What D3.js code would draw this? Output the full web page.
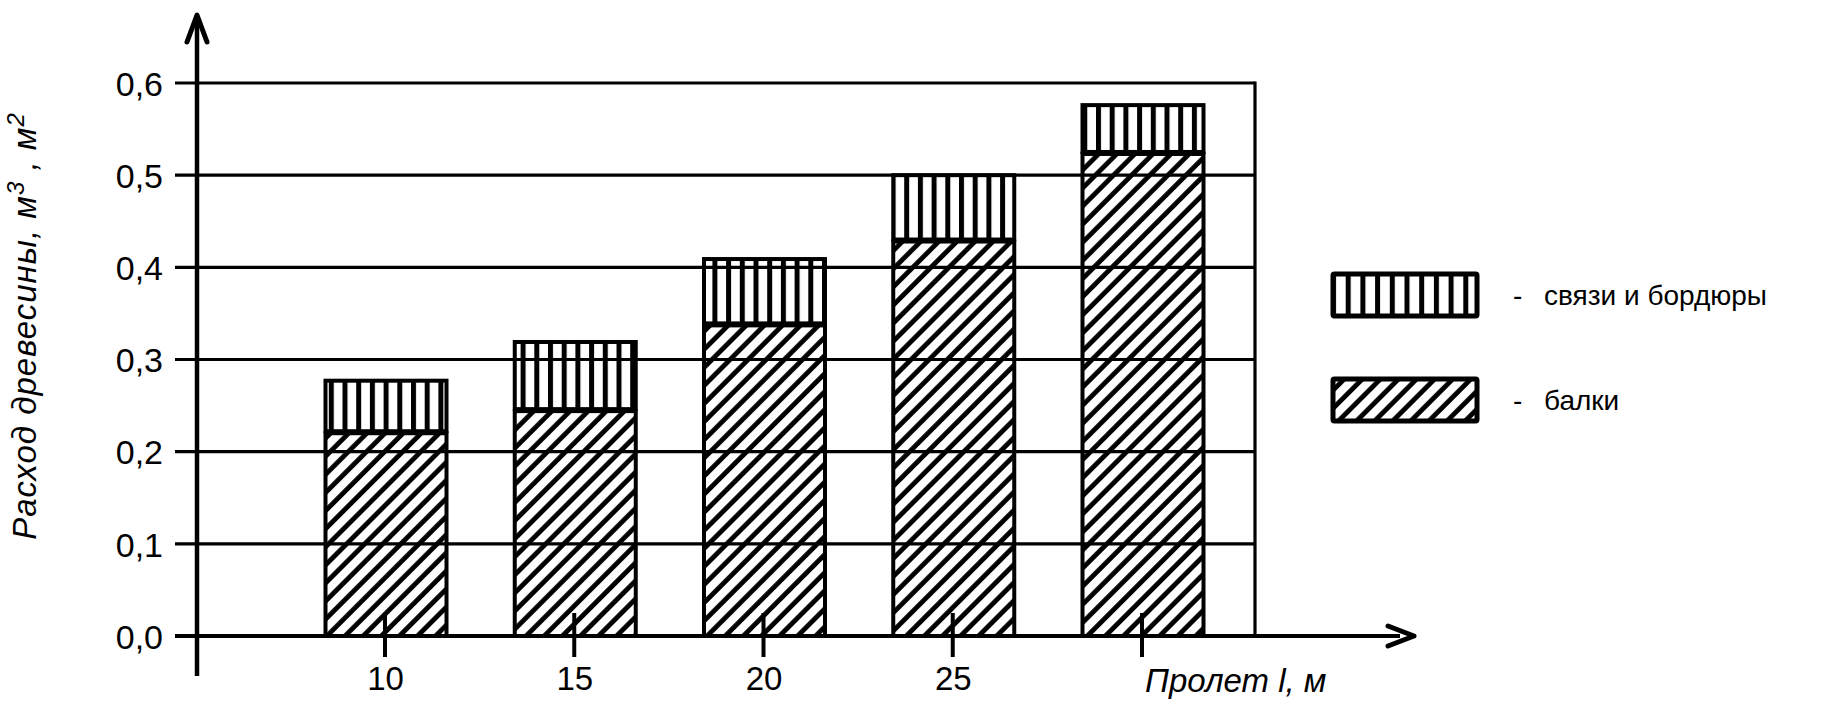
<!DOCTYPE html>
<html>
<head>
<meta charset="utf-8">
<script src="https://cdn.jsdelivr.net/npm/d3@7"></script>
<style>
  html, body { margin: 0; padding: 0; background: #fff; }
  svg { display: block; }
  text { font-family: "Liberation Sans", Arial, sans-serif; fill: #000; }
</style>
</head>
<body>
<script>
// ---- data ----
const categories = ["10", "15", "20", "25", "30"];
const tickLabels = ["10", "15", "20", "25", ""];
const beams = [0.22, 0.244, 0.337, 0.428, 0.523];          // балки
const bracing = [0.057, 0.075, 0.072, 0.072, 0.053];       // связи и бордюры
const yTicks = [0, 0.1, 0.2, 0.3, 0.4, 0.5, 0.6];
const seriesNames = ["связи и бордюры", "балки"];

const W = 1831, H = 709;
const svg = d3.select("body").append("svg").attr("width", W).attr("height", H);

const y = d3.scaleLinear().domain([0, 0.6]).range([636, 83]);
const x = d3.scalePoint().domain(categories).range([385, 1142]);
const barW = 121;
const gridLeft = 175, gridRight = 1255, axisX = 197;

// patterns
const defs = svg.append("defs");
const diag = defs.append("pattern").attr("id", "diag").attr("patternUnits", "userSpaceOnUse")
  .attr("width", 12.8).attr("height", 12.8).attr("patternTransform", "rotate(45)");
diag.append("rect").attr("width", 12.8).attr("height", 12.8).attr("fill", "#fff");
diag.append("line").attr("x1", 2.5).attr("y1", 0).attr("x2", 2.5).attr("y2", 12.8)
  .attr("stroke", "#000").attr("stroke-width", 4.8);
const vert = defs.append("pattern").attr("id", "vert").attr("patternUnits", "userSpaceOnUse")
  .attr("width", 13.7).attr("height", 10);
vert.append("rect").attr("width", 13.7).attr("height", 10).attr("fill", "#fff");
vert.append("line").attr("x1", 2.5).attr("y1", 0).attr("x2", 2.5).attr("y2", 10)
  .attr("stroke", "#000").attr("stroke-width", 5);
const vertL = defs.append("pattern").attr("id", "vertL").attr("patternUnits", "userSpaceOnUse")
  .attr("x", 1331).attr("width", 14.7).attr("height", 10);
vertL.append("rect").attr("width", 14.7).attr("height", 10).attr("fill", "#fff");
vertL.append("line").attr("x1", 2.5).attr("y1", 0).attr("x2", 2.5).attr("y2", 10)
  .attr("stroke", "#000").attr("stroke-width", 5);

// bars
const data = categories.map((c, i) => ({ c, b: beams[i], s: bracing[i] }));
const g = svg.append("g");
g.selectAll("rect.beam").data(data).join("rect").attr("class", "beam")
  .attr("x", d => x(d.c) - barW / 2 + 1).attr("width", barW)
  .attr("y", d => y(d.b)).attr("height", d => y(0) - y(d.b))
  .attr("fill", "url(#diag)").attr("stroke", "#000").attr("stroke-width", 4);
g.selectAll("rect.brace").data(data).join("rect").attr("class", "brace")
  .attr("x", d => x(d.c) - barW / 2 + 1).attr("width", barW)
  .attr("y", d => y(d.b + d.s)).attr("height", d => y(d.b) - y(d.b + d.s) - 2)
  .attr("fill", "url(#vert)").attr("stroke", "#000").attr("stroke-width", 4);

// gridlines (drawn over bars)
svg.append("g").selectAll("line").data(yTicks).join("line")
  .attr("x1", gridLeft).attr("x2", d => d === 0 ? 1400 : gridRight)
  .attr("y1", d => y(d)).attr("y2", d => y(d))
  .attr("stroke", "#000").attr("stroke-width", d => d === 0 ? 4 : 3.2);
// right border
svg.append("line").attr("x1", gridRight).attr("x2", gridRight)
  .attr("y1", y(0.6) - 1.5).attr("y2", y(0)).attr("stroke", "#000").attr("stroke-width", 3.2);

// y axis (labels via d3 axis)
const yAxis = d3.axisLeft(y).tickValues(yTicks).tickSize(0).tickPadding(0)
  .tickFormat(d => d3.format(".1f")(d).replace(".", ","));
const ya = svg.append("g").attr("transform", "translate(163,0)").call(yAxis);
ya.select(".domain").remove();
ya.selectAll("text").style("font-size", "34px").attr("font-family", "Liberation Sans, Arial, sans-serif").attr("dy", "0.36em");

// x axis ticks + labels
const xAxis = d3.axisBottom(x).tickSize(0).tickPadding(0).tickFormat((d, i) => tickLabels[i]);
const xa = svg.append("g").attr("transform", "translate(0,636)").call(xAxis);
xa.select(".domain").remove();
xa.selectAll("text").style("font-size", "33px").attr("font-family", "Liberation Sans, Arial, sans-serif").attr("y", 42).attr("dy", "0.36em");
svg.append("g").selectAll("line").data(categories).join("line")
  .attr("x1", d => x(d)).attr("x2", d => x(d)).attr("y1", 613).attr("y2", 657)
  .attr("stroke", "#000").attr("stroke-width", 4);

// axis lines and arrows
svg.append("line").attr("x1", axisX).attr("x2", axisX).attr("y1", 16).attr("y2", 676)
  .attr("stroke", "#000").attr("stroke-width", 4.5);
svg.append("path").attr("d", `M${axisX - 10},42 L${axisX},15 L${axisX + 10},42`)
  .attr("fill", "none").attr("stroke", "#000").attr("stroke-width", 5).attr("stroke-linecap", "round").attr("stroke-linejoin", "round");
svg.append("path").attr("d", `M1388,626 L1414,636 L1388,646`)
  .attr("fill", "none").attr("stroke", "#000").attr("stroke-width", 5).attr("stroke-linecap", "round").attr("stroke-linejoin", "round");

// axis titles
const yl = svg.append("text").attr("transform", "translate(36,326) rotate(-90)")
  .attr("text-anchor", "middle").style("font-size", "33px").style("font-style", "italic")
  .style("letter-spacing", "1px");
yl.append("tspan").text("Расход древесины, м");
yl.append("tspan").text("3").attr("dy", -12).style("font-size", "24px");
yl.append("tspan").text(" , м").attr("dy", 12);
yl.append("tspan").text("2").attr("dy", -12).style("font-size", "24px");

svg.append("text").attr("x", 1145).attr("y", 692).style("font-size", "33px").style("font-style", "italic")
  .text("Пролет l, м");

// legend
const legend = svg.append("g");
const legY = [295, 400];
const legFill = ["url(#vertL)", "url(#diag)"];
seriesNames.forEach((n, i) => {
  legend.append("rect").attr("x", 1333).attr("y", legY[i] - 21).attr("width", 144).attr("height", 42)
    .attr("fill", legFill[i]).attr("stroke", "#000").attr("stroke-width", 5).attr("rx", 1.5);
  legend.append("text").attr("x", 1513).attr("y", legY[i]).attr("dy", "0.36em")
    .style("font-size", "28px").text("-");
  legend.append("text").attr("x", 1544).attr("y", legY[i]).attr("dy", "0.36em")
    .style("font-size", "28px").text(n);
});
</script>
</body>
</html>
